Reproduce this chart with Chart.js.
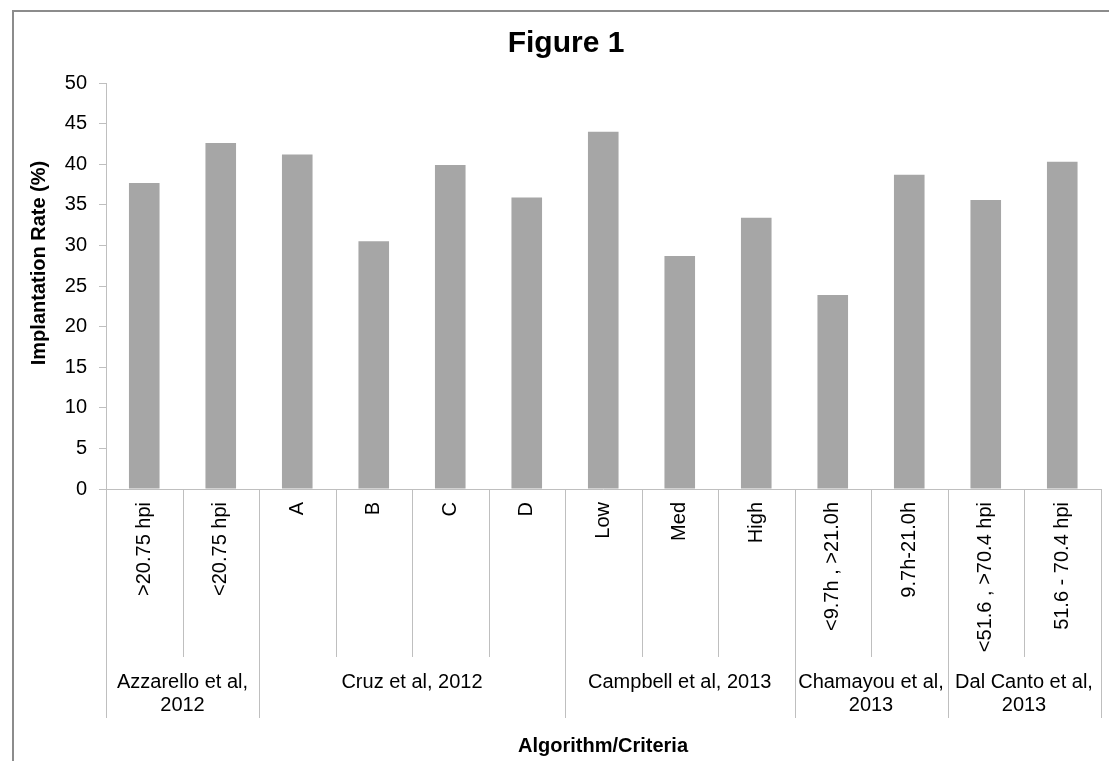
<!DOCTYPE html>
<html>
<head>
<meta charset="utf-8">
<script src="https://cdn.jsdelivr.net/npm/chart.js@4/dist/chart.umd.min.js"></script>
<style>
  html, body { margin: 0; padding: 0; background: #fff; }
  #wrap { width: 1109px; height: 761px; }
</style>
</head>
<body>
<div id="wrap"><canvas id="c" width="1109" height="761"></canvas></div>
<script>
// ---- data ----
const categories = ['>20.75 hpi', '<20.75 hpi', 'A', 'B', 'C', 'D', 'Low', 'Med', 'High',
  '<9.7h , >21.0h', '9.7h-21.0h', '<51.6 , >70.4 hpi', '51.6 - 70.4 hpi'];
const implantationRate = [37.7, 42.6, 41.2, 30.5, 39.9, 35.9, 44.0, 28.7, 33.4, 23.9, 38.7, 35.6, 40.3];
const groupLabels = [['Azzarello et al,', '2012'], ['Cruz et al, 2012'], ['Campbell et al, 2013'],
  ['Chamayou et al,', '2013'], ['Dal Canto et al,', '2013']];
const groupSizes = [2, 4, 3, 2, 2];
const yMin = 0, yMax = 50, yStep = 5;
const chartTitle = 'Figure 1';
const yTitle = 'Implantation Rate (%)';
const xTitle = 'Algorithm/Criteria';

const FONT = '"Liberation Sans", Arial, sans-serif';
const LINE = '#bfbfbf';

const decor = {
  id: 'decor',
  beforeDraw(chart) {
    const ctx = chart.ctx;
    ctx.save();
    ctx.fillStyle = '#ffffff';
    ctx.fillRect(0, 0, chart.width, chart.height);
    ctx.fillStyle = '#8c8c8c';
    ctx.fillRect(12, 10, 2, chart.height - 10);
    ctx.fillRect(12, 10, chart.width - 12, 2);
    ctx.restore();
  },
  afterDraw(chart) {
    const ctx = chart.ctx;
    const xs = chart.scales.x;
    const area = chart.chartArea;
    const half = (xs.getPixelForValue(1) - xs.getPixelForValue(0)) / 2;
    const n = categories.length;
    const boundary = k => (k < n ? xs.getPixelForValue(k) - half : xs.getPixelForValue(n - 1) + half);
    const groupEdges = [0];
    groupSizes.forEach(s => groupEdges.push(groupEdges[groupEdges.length - 1] + s));
    const axisY = area.bottom;
    ctx.save();
    ctx.strokeStyle = LINE;
    ctx.lineWidth = 1;
    for (let k = 0; k <= n; k++) {
      const x = Math.round(boundary(k)) + 0.5;
      const isGroup = groupEdges.includes(k);
      ctx.beginPath();
      ctx.moveTo(x, axisY);
      ctx.lineTo(x, isGroup ? 718 : 657);
      ctx.stroke();
    }
    // group labels
    ctx.fillStyle = '#000';
    ctx.font = '20px ' + FONT;
    ctx.textAlign = 'center';
    ctx.textBaseline = 'middle';
    groupLabels.forEach((lines, g) => {
      const cx = (boundary(groupEdges[g]) + boundary(groupEdges[g + 1])) / 2;
      lines.forEach((t, i) => ctx.fillText(t, cx, 682 + i * 23));
    });
    // titles
    ctx.font = 'bold 30px ' + FONT;
    ctx.fillText(chartTitle, 566, 44);
    ctx.font = 'bold 20px ' + FONT;
    ctx.fillText(xTitle, 603, 746);
    ctx.translate(39, 263);
    ctx.rotate(-Math.PI / 2);
    ctx.fillText(yTitle, 0, 0);
    ctx.restore();
  }
};

new Chart(document.getElementById('c'), {
  type: 'bar',
  data: {
    labels: categories,
    datasets: [{
      data: implantationRate,
      backgroundColor: '#a6a6a6',
      borderWidth: 0,
      categoryPercentage: 1.0,
      barPercentage: 0.4
    }]
  },
  options: {
    responsive: false,
    animation: false,
    devicePixelRatio: 1,
    layout: { padding: { top: 83, left: 0, right: 8.5, bottom: 0 } },
    plugins: { legend: { display: false }, tooltip: { enabled: false }, title: { display: false } },
    scales: {
      x: {
        grid: { display: false, drawTicks: false },
        border: { display: true, color: LINE, width: 1 },
        ticks: {
          autoSkip: false, maxRotation: 90, minRotation: 90, padding: 13,
          color: '#000', font: { family: FONT, size: 20 }
        },
        afterFit(scale) { scale.height = 272; }
      },
      y: {
        min: yMin, max: yMax,
        grid: { drawOnChartArea: false, drawTicks: true, tickLength: 7, color: LINE },
        border: { display: true, color: LINE, width: 1 },
        ticks: { stepSize: yStep, padding: 12, color: '#000', font: { family: FONT, size: 20 } },
        afterFit(scale) { scale.width = 106; }
      }
    }
  },
  plugins: [decor]
});
</script>
</body>
</html>
